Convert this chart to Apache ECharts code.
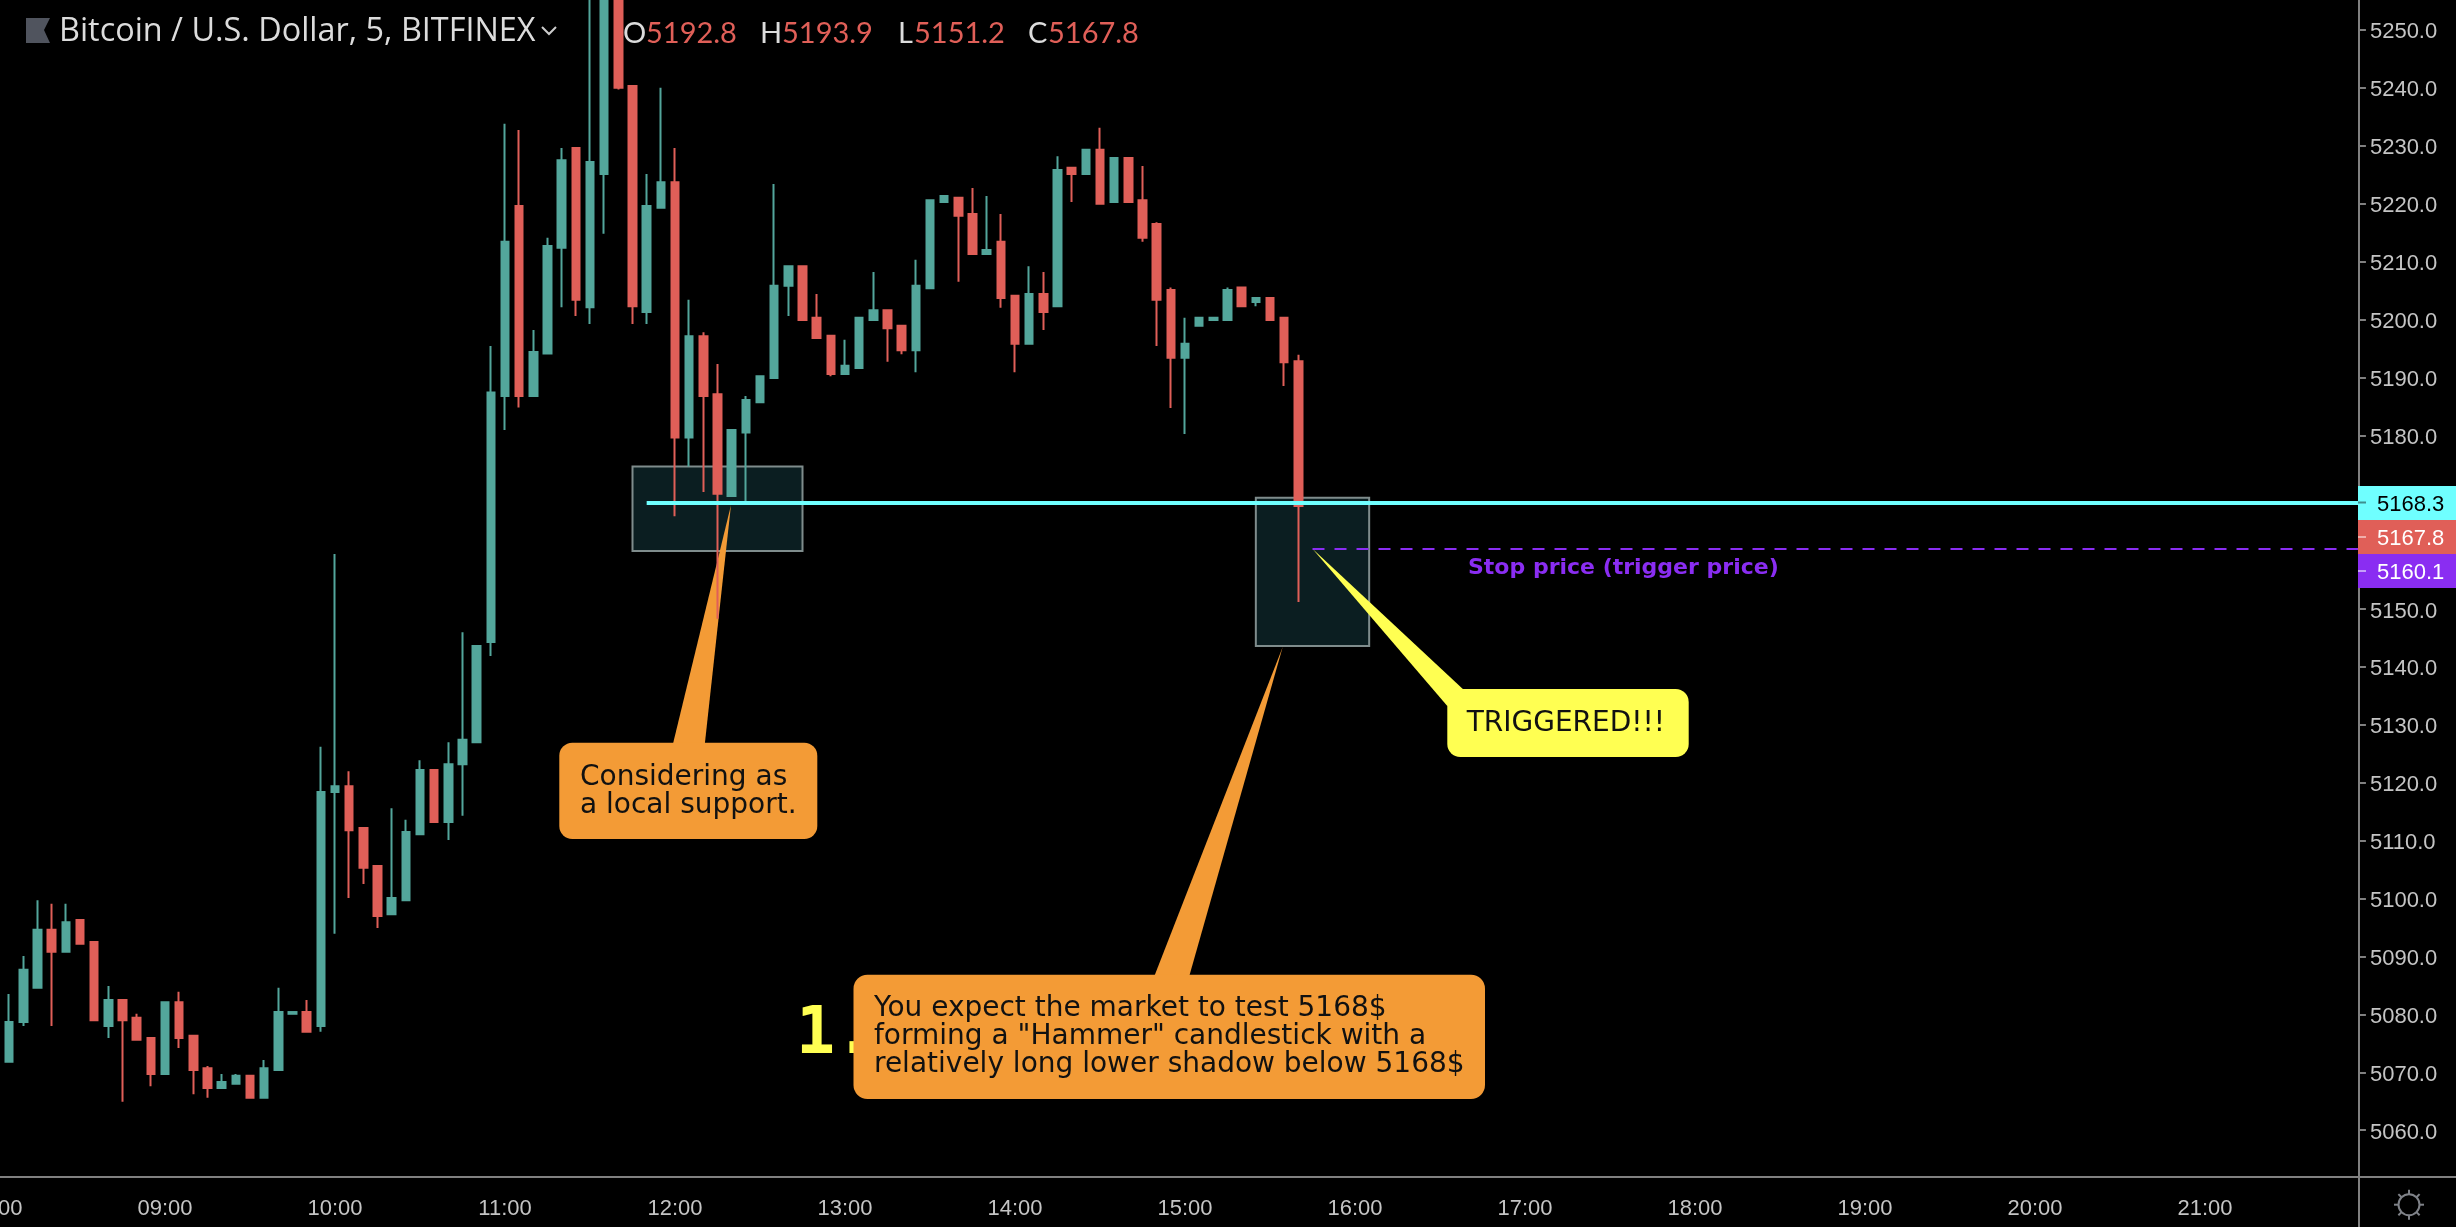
<!DOCTYPE html>
<html>
<head>
<meta charset="utf-8">
<title>BTCUSD 5m</title>
<style>
  html, body { margin: 0; padding: 0; background: #000; }
  #main { width: 2456px; height: 1227px; }
</style>
<script src="https://cdn.jsdelivr.net/npm/echarts@6/dist/echarts.min.js"></script>
</head>
<body>
<div id="main"></div>
<script>
// 5 minute bars from 08:00 (the first slot is empty)
var opens = [null,
  5071.8, 5078.7, 5084.6, 5094.6, 5090.8, 5096.3, 5092.5, 5078.0, 5082.5, 5079.4,
  5075.9, 5069.7, 5082.1, 5076.3, 5070.7, 5067.3, 5068.0, 5069.4, 5065.6, 5070.4,
  5080.1, 5080.4, 5078.0, 5118.4, 5119.4, 5112.2, 5105.6, 5097.3, 5099.7, 5111.1,
  5122.2, 5113.2, 5123.2, 5127.0, 5144.3, 5186.8, 5219.6, 5186.8, 5194.1, 5212.4,
  5229.6, 5202.1, 5225.1, 5258.0, 5240.3, 5201.3, 5219.3, 5223.7, 5179.6, 5197.1,
  5187.1, 5169.5, 5180.5, 5185.7, 5189.9, 5205.8, 5209.2, 5200.3, 5197.2, 5190.6,
  5191.6, 5199.9, 5201.6, 5198.9, 5194.7, 5205.4, 5220.3, 5221.0, 5218.2, 5211.3,
  5213.4, 5204.1, 5195.8, 5204.4, 5202.3, 5226.2, 5225.1, 5229.3, 5220.3, 5227.9,
  5220.6, 5216.5, 5205.1, 5193.4, 5198.9, 5199.9, 5199.9, 5205.5, 5203.0, 5203.7,
  5200.3, 5192.8];
var closes = [null,
  5078.7, 5087.7, 5094.6, 5090.8, 5095.9, 5092.2, 5079.0, 5082.5, 5079.0, 5075.6,
  5069.7, 5082.1, 5075.9, 5070.4, 5067.3, 5068.3, 5069.4, 5065.6, 5070.7, 5080.4,
  5080.4, 5077.0, 5118.4, 5119.4, 5111.8, 5105.3, 5097.0, 5100.1, 5111.5, 5122.2,
  5113.2, 5123.2, 5127.4, 5143.6, 5187.4, 5213.4, 5186.8, 5194.4, 5212.7, 5227.5,
  5203.4, 5227.2, 5258.0, 5240.0, 5202.3, 5219.6, 5223.7, 5179.6, 5197.1, 5186.8,
  5169.9, 5180.9, 5186.1, 5190.2, 5205.8, 5209.2, 5199.9, 5196.8, 5190.6, 5192.0,
  5200.3, 5201.6, 5198.5, 5194.7, 5205.8, 5220.6, 5221.3, 5217.9, 5211.3, 5212.0,
  5203.7, 5195.8, 5204.4, 5201.3, 5225.8, 5225.1, 5229.3, 5220.0, 5227.9, 5220.3,
  5214.1, 5203.4, 5193.4, 5195.8, 5200.3, 5200.3, 5205.1, 5202.3, 5203.7, 5199.9,
  5192.6, 5167.8];
var lows = [null,
  5071.8, 5078.0, 5084.6, 5078.0, 5090.8, 5092.2, 5079.0, 5075.9, 5064.9, 5075.6,
  5067.6, 5069.7, 5074.2, 5066.2, 5065.6, 5067.3, 5068.0, 5065.6, 5065.6, 5070.4,
  5080.1, 5077.0, 5077.0, 5093.9, 5100.1, 5102.5, 5094.9, 5097.3, 5099.7, 5111.1,
  5113.2, 5110.1, 5114.3, 5127.0, 5141.9, 5180.9, 5184.8, 5186.8, 5194.1, 5202.1,
  5200.6, 5199.2, 5214.8, 5239.7, 5199.2, 5199.2, 5219.3, 5166.0, 5174.6, 5170.2,
  5148.3, 5169.5, 5168.5, 5185.7, 5189.9, 5200.6, 5199.9, 5196.8, 5190.2, 5190.6,
  5191.6, 5199.9, 5192.7, 5194.0, 5190.9, 5205.4, 5220.3, 5206.5, 5211.3, 5211.3,
  5202.0, 5190.9, 5195.8, 5198.2, 5202.3, 5220.3, 5225.1, 5220.0, 5220.3, 5220.3,
  5213.4, 5195.4, 5184.7, 5180.2, 5198.9, 5199.9, 5199.9, 5202.3, 5202.3, 5199.9,
  5188.5, 5151.2];
var highs = [null,
  5083.5, 5090.1, 5099.7, 5099.1, 5099.1, 5096.3, 5092.5, 5084.9, 5082.5, 5080.1,
  5075.9, 5082.1, 5083.9, 5076.3, 5071.1, 5069.7, 5069.7, 5069.4, 5072.1, 5084.6,
  5080.4, 5082.5, 5126.2, 5159.5, 5122.0, 5112.2, 5105.6, 5115.6, 5113.6, 5123.9,
  5122.2, 5127.0, 5146.0, 5143.6, 5195.4, 5233.8, 5232.7, 5198.2, 5214.1, 5229.6,
  5229.6, 5262.0, 5262.0, 5258.0, 5240.3, 5225.1, 5240.0, 5229.6, 5203.4, 5197.8,
  5192.3, 5180.9, 5186.8, 5190.2, 5223.4, 5209.2, 5209.2, 5204.4, 5197.2, 5196.5,
  5200.3, 5208.2, 5201.6, 5198.9, 5210.3, 5220.6, 5221.3, 5221.0, 5222.7, 5221.3,
  5218.2, 5204.1, 5209.2, 5208.2, 5228.2, 5226.2, 5229.3, 5233.1, 5227.9, 5227.9,
  5226.5, 5216.8, 5205.5, 5200.3, 5200.3, 5200.3, 5205.5, 5205.5, 5203.7, 5203.7,
  5200.3, 5193.9];

// 5160 and 5170 sit behind the price tags
var priceTicks = [5060, 5070, 5080, 5090, 5100, 5110, 5120, 5130, 5140, 5150,
  5180, 5190, 5200, 5210, 5220, 5230, 5240, 5250];

var times = [];
for (var m = 8 * 60; m < 8 * 60 + 168 * 5; m += 5) {
  var hh = Math.floor(m / 60), mm = m % 60;
  times.push((hh < 10 ? '0' : '') + hh + ':' + (mm < 10 ? '0' : '') + mm);
}

var supportLevel = 5168.3;
var stopLevel = 5160.4;
var leftBox = { from: '11:45', to: '12:45', top: 5174.6, bottom: 5160.0 };
var rightBox = { from: '15:25', to: '16:05', top: 5169.2, bottom: 5143.6 };

var upColor = '#53a69b';
var downColor = '#e05f58';
var purple = '#8a2df2';
var orange = '#f39b36';
var yellow = '#ffff52';
var axisColor = '#808080';
var labelColor = '#c4c4c4';

var candles = opens.map(function (o, i) {
  return o === null ? ['-', '-', '-', '-'] : [o, closes[i], lows[i], highs[i]];
});

function onTheHour(i, name) {
  return name.slice(3) === '00';
}

function txt(x, y, text, fill, font, z) {
  return {
    type: 'text', x: x, y: y, z: z || 40, silent: true,
    style: { text: text, fill: fill, font: font, verticalAlign: 'middle', align: 'left' }
  };
}

function poly(points, fill, z) {
  return { type: 'polygon', z: z, silent: true, shape: { points: points }, style: { fill: fill } };
}

function box(x, y, w, h, fill, r) {
  return { type: 'rect', z: 30, silent: true, shape: { x: x, y: y, width: w, height: h, r: r || 0 }, style: { fill: fill } };
}

function line(x1, y1, x2, y2, stroke, width, z) {
  return {
    type: 'line', z: z || 30, silent: true,
    shape: { x1: x1, y1: y1, x2: x2, y2: y2 },
    style: { stroke: stroke, lineWidth: width }
  };
}

var body = '28px "DejaVu Sans"';
var head = '29px Lato';
var tag = '22px "Liberation Sans"';

var drawings = [
  // 左上角标题
  poly([[26, 18], [50, 18], [44, 30], [50, 43], [26, 43]], '#50545e', 40),
  txt(59, 32, 'Bitcoin / U.S. Dollar, 5, BITFINEX', '#dcdcdc', '32.4px "Open Sans"'),
  { type: 'polyline', z: 40, silent: true, shape: { points: [[542, 27], [549, 34], [556, 27]] }, style: { stroke: '#cccccc', lineWidth: 2, fill: null } },
  txt(623, 34, 'O', '#dcdcdc', head), txt(646, 34, '5192.8', downColor, head),
  txt(760, 34, 'H', '#dcdcdc', head), txt(782, 34, '5193.9', downColor, head),
  txt(898, 34, 'L', '#dcdcdc', head), txt(914, 34, '5151.2', downColor, head),
  txt(1028, 34, 'C', '#dcdcdc', head), txt(1048, 34, '5167.8', downColor, head),

  // 支撑位说明
  poly([[731, 505], [672.7, 745], [704.7, 745]], orange, 2),
  box(559.3, 742.7, 258, 96.3, orange, 13),
  txt(580, 778, 'Considering as', '#111111', body),
  txt(580, 806, 'a local support.', '#111111', body),

  // 下方说明
  txt(796, 1036, '1.', yellow, 'bold 65px "DejaVu Sans Mono"', 20),
  poly([[1282.7, 647], [1154, 977], [1189, 977]], orange, 30),
  box(853.5, 974.7, 631.5, 124.3, orange, 14),
  txt(874, 1009, 'You expect the market to test 5168$', '#111111', body),
  txt(874, 1037, 'forming a "Hammer" candlestick with a', '#111111', body),
  txt(874, 1065, 'relatively long lower shadow below 5168$', '#111111', body),

  // 触发价
  txt(1468, 568, 'Stop price (trigger price)', purple, 'bold 22px "DejaVu Sans"'),
  poly([[1312.7, 549], [1447.3, 706], [1465, 691]], yellow, 30),
  box(1447.3, 689, 241.4, 68, yellow, 13),
  txt(1466.7, 724, 'TRIGGERED!!!', '#111111', body),

  // 右侧价格标签
  box(2358, 486, 98, 34, '#6fffff'), line(2358, 502.5, 2366, 502.5, '#3f8f8f', 2, 31),
  box(2358, 520, 98, 34, downColor), line(2358, 537, 2366, 537, '#f0aeaa', 2, 31),
  box(2358, 554, 98, 34, purple), line(2358, 571, 2366, 571, '#c4a0f8', 2, 31),
  txt(2377, 505, '5168.3', '#000000', tag),
  txt(2377, 539, '5167.8', '#ffffff', tag),
  txt(2377, 573, '5160.1', '#ffffff', tag),

  // 时间轴右端和设置图标
  line(2360, 1177, 2456, 1177, axisColor, 2),
  { type: 'circle', z: 30, silent: true, shape: { cx: 2409, cy: 1204.7, r: 10.5 }, style: { stroke: '#7f8288', lineWidth: 2, fill: null } }
];

[0, 45, 90, 135, 180, 225, 270, 315].forEach(function (deg) {
  var a = deg * Math.PI / 180;
  drawings.push(line(2409 + 10.5 * Math.cos(a), 1204.7 + 10.5 * Math.sin(a),
    2409 + 15 * Math.cos(a), 1204.7 + 15 * Math.sin(a), '#7f8288', 2));
});

var chart = echarts.init(document.getElementById('main'));

var option = {
  backgroundColor: '#000000',
  animation: false,
  grid: { left: -12.08, top: -28, width: 2380, height: 1274, containLabel: false, outerBoundsMode: 'none' },
  xAxis: {
    type: 'category',
    data: times,
    boundaryGap: true,
    offset: -69,
    axisLine: { lineStyle: { color: axisColor, width: 2 } },
    axisTick: { alignWithLabel: true, interval: onTheHour, length: 7, lineStyle: { color: axisColor, width: 2 } },
    axisLabel: { interval: onTheHour, color: labelColor, fontFamily: 'Liberation Sans', fontSize: 22, margin: 21 },
    splitLine: { show: false }
  },
  yAxis: {
    type: 'value',
    position: 'right',
    min: 5040,
    max: 5260,
    interval: 10,
    offset: -9,
    axisLine: { show: true, lineStyle: { color: axisColor, width: 2 } },
    axisTick: { show: true, customValues: priceTicks, length: 7, lineStyle: { color: axisColor, width: 2 } },
    axisLabel: {
      customValues: priceTicks, margin: 11,
      formatter: function (v) { return '{p|' + v.toFixed(1) + '}'; },
      rich: { p: { color: labelColor, fontFamily: 'Liberation Sans', fontSize: 22, padding: [5, 0, 0, 0] } }
    },
    splitLine: { show: false }
  },
  series: [{
    type: 'candlestick',
    z: 3,
    barWidth: 8,
    data: candles,
    itemStyle: {
      color: upColor, color0: downColor,
      borderColor: upColor, borderColor0: downColor, borderWidth: 2
    },
    markArea: {
      silent: true,
      z: 1,
      itemStyle: { color: '#0b1e21', borderColor: '#7f8c8c', borderWidth: 2 },
      data: [
        [{ coord: [leftBox.from, leftBox.top] }, { coord: [leftBox.to, leftBox.bottom] }],
        [{ coord: [rightBox.from, rightBox.top] }, { coord: [rightBox.to, rightBox.bottom] }]
      ]
    },
    markLine: {
      silent: true,
      symbol: 'none',
      label: { show: false },
      data: [
        [{ coord: ['11:50', supportLevel], lineStyle: { color: '#6fffff', width: 4, type: 'solid' } }, { coord: ['21:55', supportLevel] }],
        [{ coord: ['15:45', stopLevel], lineStyle: { color: purple, width: 2, type: [12, 10] } }, { coord: ['21:55', stopLevel] }]
      ]
    }
  }],
  graphic: { elements: drawings }
};

chart.setOption(option);
</script>
</body>
</html>
